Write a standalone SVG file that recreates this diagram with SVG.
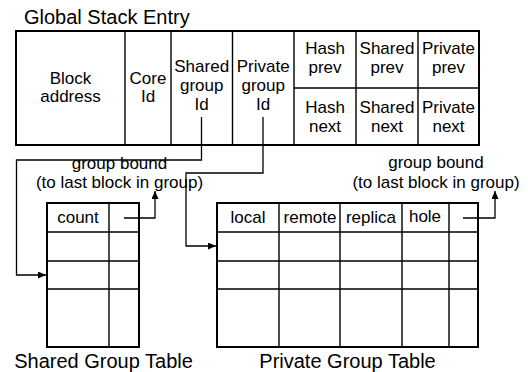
<svg xmlns="http://www.w3.org/2000/svg" width="528" height="372" viewBox="0 0 528 372">
<style>
text{font-family:"Liberation Sans",Arial,sans-serif;font-size:17px;fill:#000;text-anchor:middle}
.cap{font-size:20px}
.box{fill:#fff;stroke:#000;stroke-width:2}
.ln{stroke:#000;stroke-width:1.4;fill:none}
.con{stroke:#000;stroke-width:1.3;fill:none}
</style>
<defs>
<marker id="ah" markerUnits="userSpaceOnUse" markerWidth="9" markerHeight="8" refX="8" refY="3.5" orient="auto">
<path d="M0,0 L8,3.5 L0,7 z" fill="#000"/>
</marker>
</defs>
<rect width="528" height="372" fill="#fff"/>
<g id="global-stack-entry">
<text class="cap" x="24" y="24" style="text-anchor:start">Global Stack Entry</text>
<rect class="box" x="16" y="31" width="463" height="114"/>
<path class="ln" d="M125,31V145M171,31V145M232.5,31V145M294,31V145M356,31V145M418,31V145M294,88H479"/>
<text x="70.5" y="84">Block</text>
<text x="70.5" y="102">address</text>
<text x="148" y="84">Core</text>
<text x="148" y="102">Id</text>
<text x="201.7" y="72">Shared</text>
<text x="201.7" y="91">group</text>
<text x="201.7" y="110">Id</text>
<text x="263.2" y="72">Private</text>
<text x="263.2" y="91">group</text>
<text x="263.2" y="110">Id</text>
<text x="325" y="54">Hash</text>
<text x="325" y="73">prev</text>
<text x="387" y="54">Shared</text>
<text x="387" y="73">prev</text>
<text x="448.5" y="54">Private</text>
<text x="448.5" y="73">prev</text>
<text x="325" y="113">Hash</text>
<text x="325" y="131.5">next</text>
<text x="387" y="113">Shared</text>
<text x="387" y="131.5">next</text>
<text x="448.5" y="113">Private</text>
<text x="448.5" y="131.5">next</text>
</g>
<g id="shared-group-table">
<rect class="box" x="47" y="203" width="92" height="144"/>
<path class="ln" d="M109,203V347M47,232H139M47,261H139M47,289H139"/>
<text x="78" y="223">count</text>
<text class="cap" x="103.5" y="368">Shared Group Table</text>
</g>
<g id="private-group-table">
<rect class="box" x="217" y="203" width="261" height="144"/>
<path class="ln" d="M279,203V347M340,203V347M402,203V347M449,203V347M217,232H478M217,261H478M217,289H478"/>
<text x="248" y="223">local</text>
<text x="310" y="223">remote</text>
<text x="371" y="223">replica</text>
<text x="425" y="222">hole</text>
<text class="cap" x="347.5" y="368">Private Group Table</text>
</g>
<g id="labels">
<text x="119.5" y="169">group bound</text>
<text x="119.5" y="188">(to last block in group)</text>
<text x="436" y="168">group bound</text>
<text x="436" y="188">(to last block in group)</text>
</g>
<g id="connectors">
<path class="con" d="M201.5,117V160H16.5V275H46" marker-end="url(#ah)"/>
<path class="con" d="M263,117V173H186V246H216" marker-end="url(#ah)"/>
<path class="con" d="M124,218H155V191" marker-end="url(#ah)"/>
<path class="con" d="M463,218H495V191" marker-end="url(#ah)"/>
</g>
</svg>
